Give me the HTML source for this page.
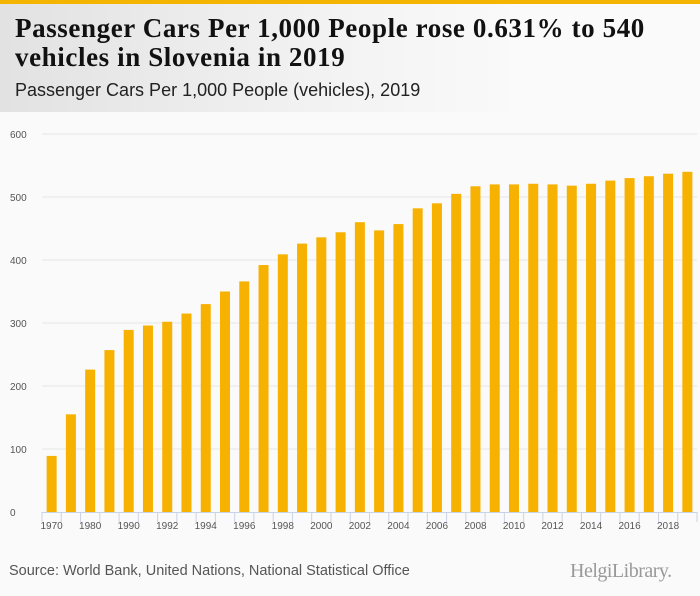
<!DOCTYPE html>
<html><head><meta charset="utf-8">
<style>
html,body{margin:0;width:700px;height:596px;overflow:hidden}
body{background:#fafafa;font-family:"Liberation Sans",sans-serif;position:relative}
#topbar{position:absolute;left:0;top:0;width:700px;height:4px;background:#f5b400}
#header{position:absolute;left:0;top:4px;width:700px;height:108px;background:linear-gradient(90deg,#e2e2e2 0%,#f2f2f2 45%,#fafafa 75%)}
#title{position:absolute;left:15px;top:14px;font-family:"Liberation Serif",serif;font-weight:bold;font-size:27px;line-height:29px;color:#111;letter-spacing:0.6px;white-space:nowrap}
#subtitle{position:absolute;left:15px;top:80px;font-size:18px;color:#222;white-space:nowrap}
#source{position:absolute;left:9px;top:563px;font-size:14.5px;color:#555;white-space:nowrap}
#logo{position:absolute;left:570px;top:559px;font-family:"Liberation Serif",serif;font-size:20px;color:#999;letter-spacing:-0.5px;white-space:nowrap;line-height:24px}
svg{position:absolute;left:0;top:0}
</style></head><body>
<div id="topbar"></div>
<div id="header"></div>
<div id="title">Passenger Cars Per 1,000 People rose 0.631% to 540<br>vehicles in Slovenia in 2019</div>
<div id="subtitle">Passenger Cars Per 1,000 People (vehicles), 2019</div>
<svg id="chart" width="700" height="596"></svg>
<div id="source">Source: World Bank, United Nations, National Statistical Office</div>
<div id="logo">HelgiLibrary.</div>
<script>
const categories=[1970,1975,1980,1985,1990,1991,1992,1993,1994,1995,1996,1997,1998,1999,2000,2001,2002,2003,2004,2005,2006,2007,2008,2009,2010,2011,2012,2013,2014,2015,2016,2017,2018,2019];
const values=[89,155,226,257,289,296,302,315,330,350,366,392,409,426,436,444,460,447,457,482,490,505,517,520,520,521,520,518,521,526,530,533,537,540];
const yTicks=[0,100,200,300,400,500,600];
const svg=document.getElementById('chart');
const NS='http://www.w3.org/2000/svg';
const x0=42,x1=697,yBase=512,yTop=134,yMax=600;
const band=(x1-x0)/categories.length;
function xScale(i){return x0+band*(i+0.5);}
function yScale(v){return yBase-(v/yMax)*(yBase-yTop);}
function mk(tag,attrs){const e=document.createElementNS(NS,tag);for(const k in attrs)e.setAttribute(k,attrs[k]);svg.appendChild(e);return e;}
yTicks.forEach(t=>{
  if(t>0){const g=mk('line',{x1:x0,x2:x1,y1:yScale(t),y2:yScale(t),stroke:'#e6e6e6','stroke-width':1});
  
  }
  const l=mk('text',{x:10,y:yScale(t)+4,'font-size':'10px',fill:'#555','font-family':'Liberation Sans, sans-serif'});
  l.textContent=t;
  
  
});
const ax=mk('line',{x1:x0,x2:x1,y1:yBase+0.5,y2:yBase+0.5,stroke:'#c8d3e6','stroke-width':1});


for(let i=0;i<=categories.length;i++){
  const tk=mk('line',{x1:x0+band*i,x2:x0+band*i,y1:yBase,y2:yBase+10,stroke:'#c8d3e6','stroke-width':1});
  
  
}
const bw=10;
categories.forEach((c,i)=>{
  const y=yScale(values[i]);
  const b=mk('rect',{x:xScale(i)-bw/2,y:y,width:bw,height:yBase-y,fill:'#f7b100'});
  
  
  if(i%2===0){
    const t=mk('text',{x:xScale(i),y:yBase+17,'font-size':'10px',fill:'#555','text-anchor':'middle','font-family':'Liberation Sans, sans-serif'});
    t.textContent=c;
    
    
  }
});
</script>
</body></html>
